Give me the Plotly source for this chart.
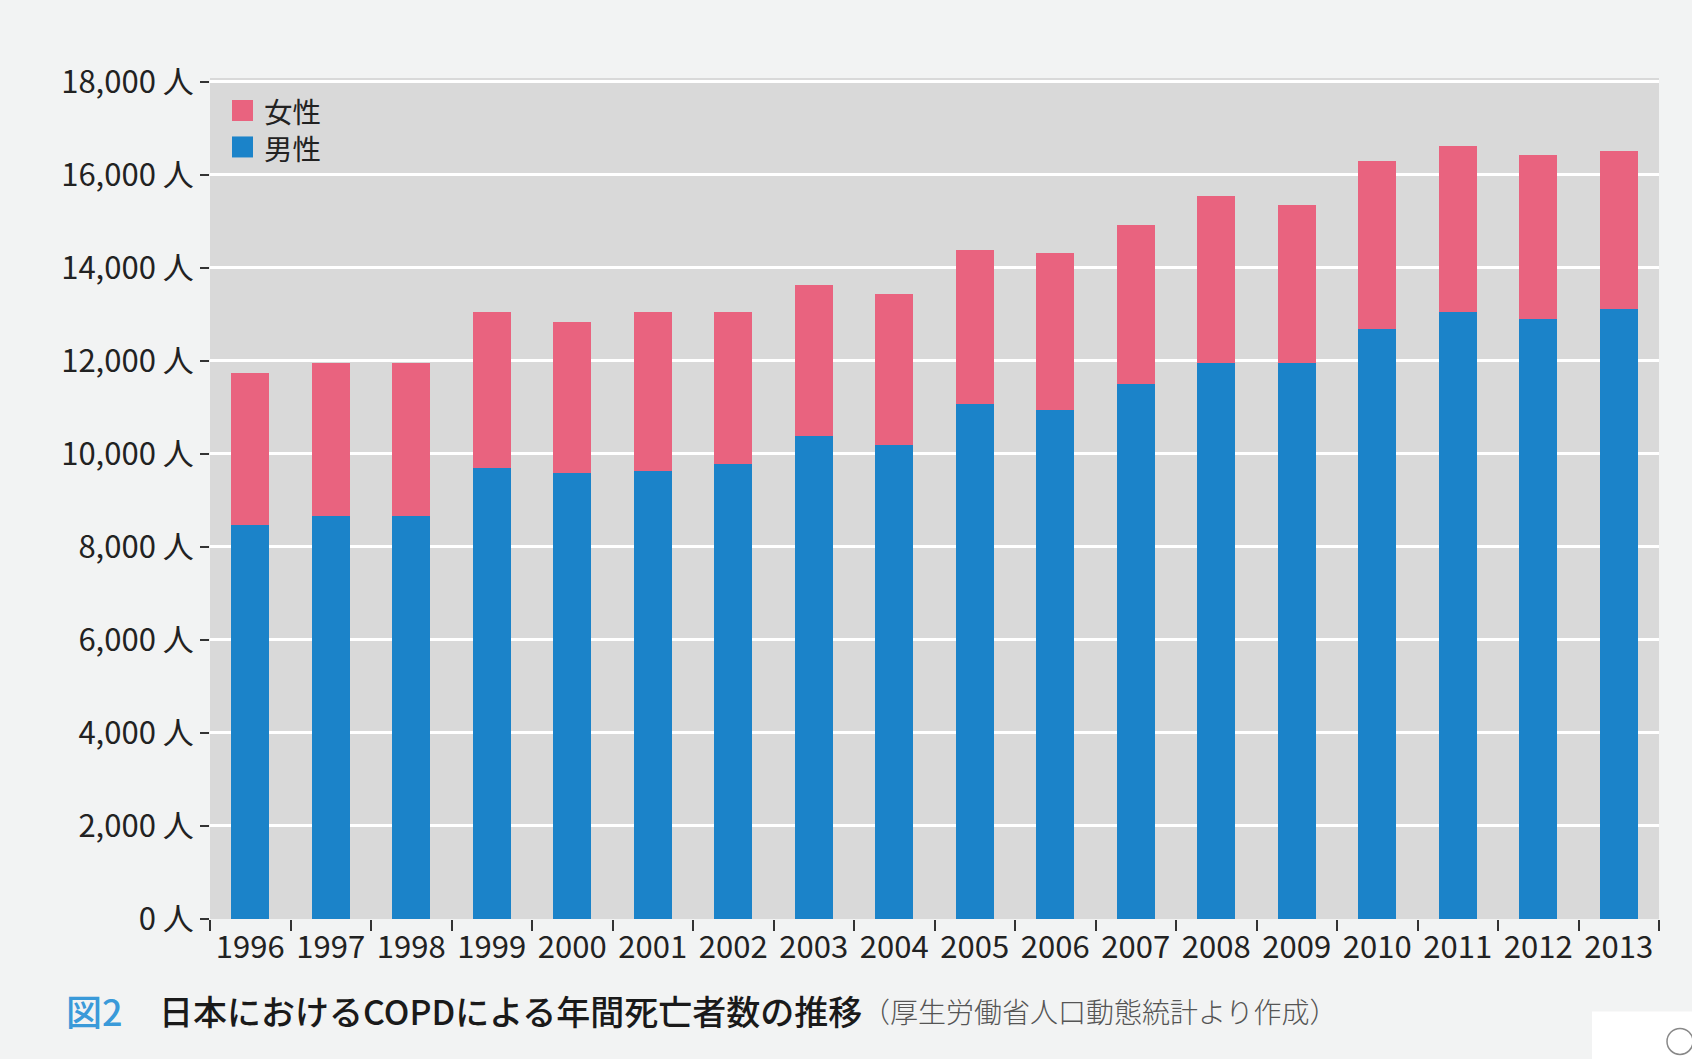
import plotly.graph_objects as go

years = [str(y) for y in range(1996, 2014)]
male = [8480, 8670, 8670, 9690, 9590, 9640, 9790, 10390, 10190, 11070,
        10940, 11500, 11960, 11960, 12690, 13040, 12890, 13120]
female = [3260, 3290, 3290, 3350, 3250, 3400, 3250, 3250, 3250, 3320,
          3380, 3430, 3580, 3380, 3600, 3580, 3530, 3390]
ytick_vals = list(range(0, 18001, 2000))
ytick_text = [f"{v:,} 人" for v in ytick_vals]
legend_names = ["女性", "男性"]

BLUE = "#1b83c9"
PINK = "#e9637f"
FONT = "Noto Sans CJK JP"

fig = go.Figure()
fig.add_trace(go.Bar(x=years, y=male, name="男性", marker=dict(color=BLUE, line=dict(width=0))))
fig.add_trace(go.Bar(x=years, y=female, name="女性", marker=dict(color=PINK, line=dict(width=0))))

W, H = 1692, 1059
L, R, T, B = 210, 33, 78, 139.5
pw, ph = W - L - R, H - T - B


def px(x):
    return (x - L) / pw


def py(y):
    return (H - B - y) / ph


shapes = []
annotations = []
# custom legend
for i, col in enumerate([PINK, BLUE]):
    y0 = 100 + i * 36.5
    shapes.append(dict(type="rect", xref="paper", yref="paper",
                       x0=px(232), x1=px(253), y0=py(y0 + 21), y1=py(y0),
                       fillcolor=col, line=dict(width=0)))
annotations.append(dict(text="<br>".join(legend_names), xref="paper", yref="paper",
                        x=px(262), y=py(129), xanchor="left", yanchor="middle",
                        align="left", showarrow=False,
                        font=dict(family=FONT, size=28.5, color="#222")))

# caption
ycap = py(1011)
annotations.append(dict(text="図2", xref="paper", yref="paper", x=px(64), y=ycap,
                        xanchor="left", yanchor="middle", showarrow=False,
                        font=dict(family=FONT, size=36, color="#3a9ad9", weight=500)))
annotations.append(dict(text="日本におけるCOPDによる年間死亡者数の推移", xref="paper", yref="paper",
                        x=px(157), y=ycap, xanchor="left", yanchor="middle", showarrow=False,
                        font=dict(family=FONT, size=34, color="#1a1a1a", weight=500)))
annotations.append(dict(text="（厚生労働省人口動態統計より作成）", xref="paper", yref="paper",
                        x=px(860), y=py(1012), xanchor="left", yanchor="middle", showarrow=False,
                        font=dict(family=FONT, size=28, color="#555", weight=300)))

# scan artefact in bottom-right corner
shapes.append(dict(type="rect", xref="paper", yref="paper", x0=px(1592), x1=px(1700),
                   y0=py(1065), y1=py(1012), fillcolor="white", line=dict(width=0), layer="above"))
shapes.append(dict(type="circle", xref="paper", yref="paper", x0=px(1667), x1=px(1693),
                   y0=py(1055), y1=py(1029), line=dict(color="#888", width=1.5), layer="above"))

fig.update_layout(
    width=W, height=H,
    barmode="stack",
    bargap=0.53,
    paper_bgcolor="#f2f3f3",
    plot_bgcolor="#d9d9d9",
    margin=dict(l=L, r=R, t=T, b=B, autoexpand=False),
    showlegend=False,
    font=dict(family=FONT, color="#222"),
    shapes=shapes,
    annotations=annotations,
    xaxis=dict(type="category", range=[-0.5, 17.5], tickson="boundaries",
               ticks="outside", ticklen=11, tickwidth=2, tickcolor="#333",
               showgrid=False, showline=False, zeroline=False, ticklabelstandoff=7,
               tickangle=0,
               tickfont=dict(family=FONT, size=31, color="#222")),
    yaxis=dict(range=[0, 18080], tickvals=ytick_vals, ticktext=ytick_text,
               ticks="outside", ticklen=9, tickwidth=2, tickcolor="#333",
               showgrid=True, gridcolor="#ffffff", gridwidth=2.5,
               zeroline=False, showline=False,
               tickfont=dict(family=FONT, size=31, color="#222")),
)

fig.write_html("out.html", config={"displayModeBar": False},
               post_script="document.body.style.margin='0';document.body.style.overflow='hidden';")
